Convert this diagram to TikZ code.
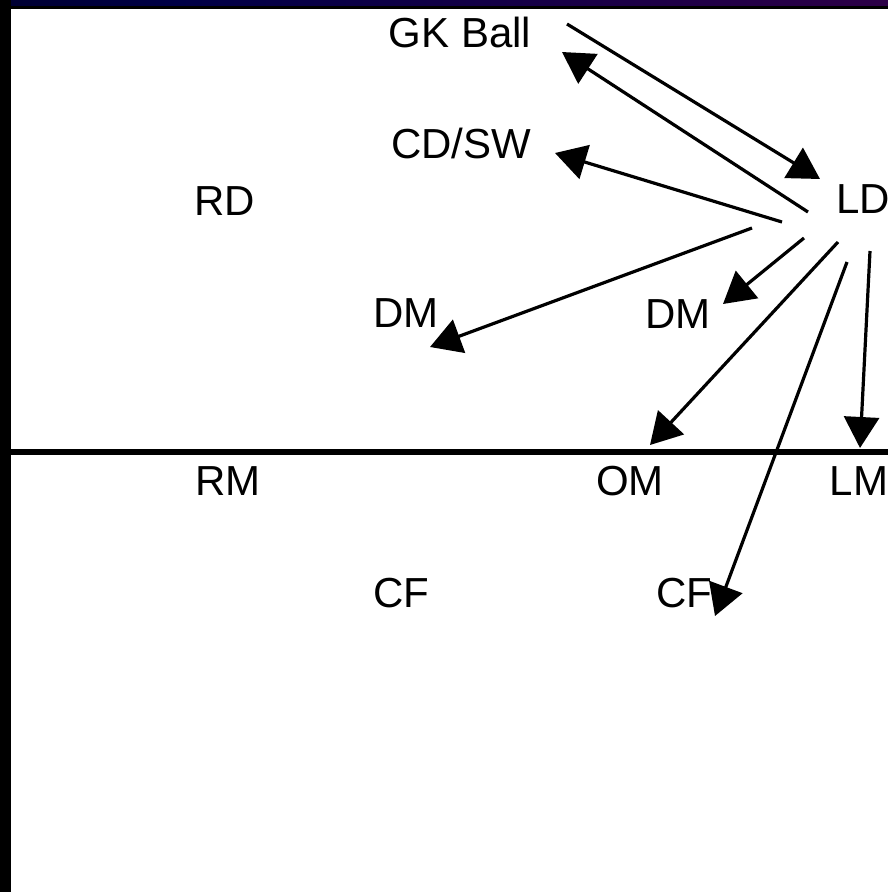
\documentclass[tikz,border=0pt]{standalone}
\usepackage{fontspec}
\setmainfont{Liberation Sans}
\usetikzlibrary{arrows.meta}
\definecolor{navyc}{RGB}{0,0,70}
\definecolor{purpc}{RGB}{72,0,72}
\pgfdeclarehorizontalshading{topband}{100bp}{color(0bp)=(black); color(35bp)=(navyc); color(100bp)=(purpc)}
\tikzset{
  lbl/.style={anchor=base, inner sep=0pt, font=\fontsize{42}{50}\selectfont},
  pass/.style={line width=3.2pt, -{Triangle[length=31pt,width=35pt]}},
}
\begin{document}
\begin{tikzpicture}[x=1pt,y=-1pt]
\useasboundingbox (0,0) rectangle (888,892);
\clip (0,0) rectangle (888,892);
\fill[white] (0,0) rectangle (888,892);
% frame
\fill[black] (0,0) rectangle (888,9);
\shade[shading=topband] (0,0) rectangle (888,5);
\fill[black] (0,0) rectangle (11,892);
% halfway line
\fill[black] (11,449) rectangle (888,455);
% labels
\node[lbl] (gk) at (460,47) {GK Ball};
\node[lbl] (cd) at (461,158) {CD/SW};
\node[lbl] (rd) at (225,215) {RD};
\node[lbl] (ld) at (863,213) {LD};
\node[lbl] (dml) at (406,327) {DM};
\node[lbl] (dmr) at (678,328) {DM};
\node[lbl] (rm) at (228,495) {RM};
\node[lbl] (om) at (630,495) {OM};
\node[lbl] (lm) at (859,495) {LM};
\node[lbl] (cfl) at (401,607) {CF};
\node[lbl] (cfr) at (684,607) {CF};
% arrow end points
\coordinate (gkS) at (567,24);   \coordinate (ldT) at (820,179);
\coordinate (ldA) at (808,212);  \coordinate (gkT) at (562,52);
\coordinate (ldB) at (782,222);  \coordinate (cdT) at (555,153);
\coordinate (ldC) at (752,228);  \coordinate (dmlT) at (430,347);
\coordinate (ldD) at (804,238);  \coordinate (dmrT) at (723,304);
\coordinate (ldE) at (838,242);  \coordinate (omT) at (650,445);
\coordinate (ldF) at (847,262);  \coordinate (cfrT) at (715,616);
\coordinate (ldG) at (870,251);  \coordinate (lmT) at (860,448);
% passes
\draw[pass] (gkS) -- (ldT);
\draw[pass] (ldA) -- (gkT);
\draw[pass] (ldB) -- (cdT);
\draw[pass] (ldC) -- (dmlT);
\draw[pass] (ldD) -- (dmrT);
\draw[pass] (ldE) -- (omT);
\draw[pass] (ldF) -- (cfrT);
\draw[pass] (ldG) -- (lmT);
\end{tikzpicture}
\end{document}
